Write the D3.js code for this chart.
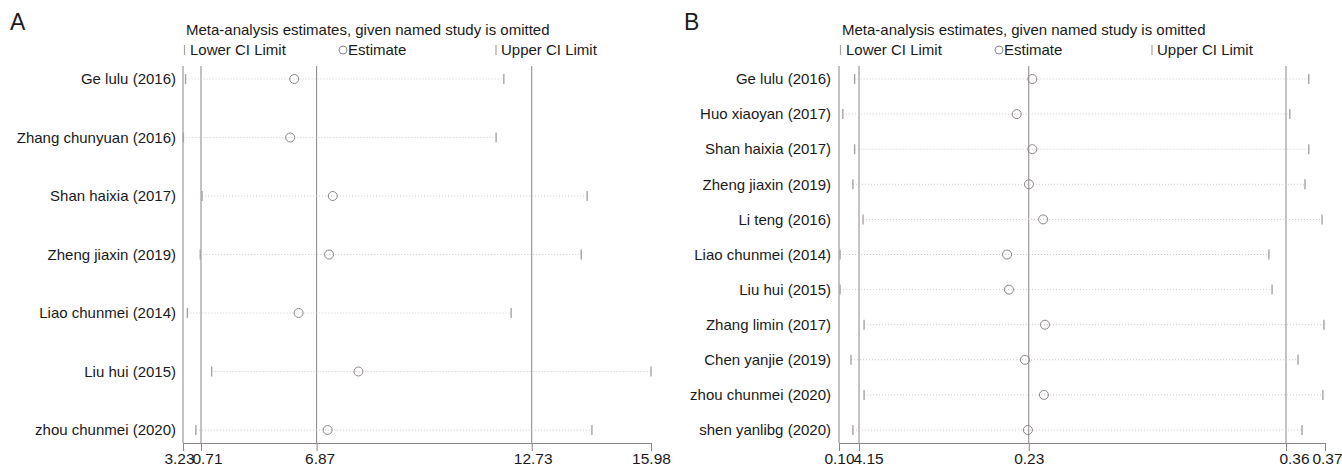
<!DOCTYPE html>
<html>
<head>
<meta charset="utf-8">
<script src="https://cdn.jsdelivr.net/npm/d3@7/dist/d3.min.js"></script>
<style>
  body { margin: 0; background: #fff; }
  text { font-family: "Liberation Sans Narrow", "Liberation Sans", Arial, sans-serif; fill: #1a1a1a; }
</style>
</head>
<body>
<div id="chart"></div>
<script>
// ---- Panel A data ----
const studiesA = ["Ge lulu (2016)", "Zhang chunyuan (2016)", "Shan haixia (2017)", "Zheng jiaxin (2019)",
  "Liao chunmei (2014)", "Liu hui (2015)", "zhou chunmei (2020)"];
const lowerA = [3.30, 3.24, 3.75, 3.70, 3.35, 4.01, 3.58];
const estA = [6.26, 6.15, 7.31, 7.21, 6.38, 8.01, 7.17];
const upperA = [11.97, 11.76, 14.24, 14.08, 12.17, 15.98, 14.37];
const refA = [3.72, 6.87, 12.73];
const domainA = [3.23, 15.98];
const tickValsA = [3.23, 3.72, 6.87, 12.73, 15.98];
const tickLabelsA = ["3.23", "0.71", "6.87", "12.73", "15.98"];

// ---- Panel B data ----
const studiesB = ["Ge lulu (2016)", "Huo xiaoyan (2017)", "Shan haixia (2017)", "Zheng jiaxin (2019)",
  "Li teng (2016)", "Liao chunmei (2014)", "Liu hui (2015)", "Zhang limin (2017)", "Chen yanjie (2019)",
  "zhou chunmei (2020)", "shen yanlibg (2020)"];
const lowerB = [0.1514, 0.1458, 0.1514, 0.1506, 0.1554, 0.1445, 0.1445, 0.1559, 0.1497, 0.1559, 0.1506];
const estB = [0.2357, 0.2283, 0.2357, 0.2341, 0.2408, 0.2237, 0.2246, 0.2417, 0.2322, 0.2412, 0.2336];
const upperB = [0.3668, 0.3578, 0.3668, 0.3650, 0.3731, 0.3479, 0.3494, 0.3740, 0.3617, 0.3735, 0.3636];
const refB = [0.1535, 0.234, 0.356];
const domainB = [0.144, 0.3745];
const tickValsB = [0.144, 0.1535, 0.234, 0.356, 0.3745];
const tickLabelsB = ["0.10", "4.15", "0.23", "0.36", "0.37"];

const title = "Meta-analysis estimates, given named study is omitted";

const W = 1342, H = 467;
const lineCol = "#8c8684";
const tickCol = "#a8a4a2";
const dotCol = "#c9c9c9";

const svg = d3.select("#chart").append("svg")
  .attr("width", W).attr("height", H);

function forestPanel(cfg) {
  const { letter, letterX, x0, x1, labelRight, studies, lower, est, upper, refs, domain, tickVals, tickLabels, labelDx } = cfg;
  const top = 66, axisY = 443;

  const x = d3.scaleLinear().domain(domain).range([x0, x1]);
  const y = d3.scalePoint().domain(studies).range([79, 430]);

  const g = svg.append("g");

  g.append("text")
    .attr("x", letterX).attr("y", 30)
    .style("font-family", "Liberation Sans, Arial, sans-serif")
    .style("font-size", "23px")
    .text(letter);

  // title + legend
  g.append("text").attr("x", x0 + 3).attr("y", 35)
    .style("font-size", "15px")
    .text(title);

  const leg = g.append("g").attr("transform", `translate(${x0},0)`);
  leg.append("line").attr("x1", 1.5).attr("x2", 1.5).attr("y1", 45).attr("y2", 55)
    .attr("stroke", tickCol).attr("stroke-width", 1.2);
  leg.append("text").attr("x", 7).attr("y", 55).style("font-size", "15px").text("Lower CI Limit");
  leg.append("circle").attr("cx", 160).attr("cy", 50).attr("r", 4)
    .attr("fill", "none").attr("stroke", lineCol);
  leg.append("text").attr("x", 165).attr("y", 55).style("font-size", "15px").text("Estimate");
  leg.append("line").attr("x1", 313).attr("x2", 313).attr("y1", 45).attr("y2", 55)
    .attr("stroke", tickCol).attr("stroke-width", 1.2);
  leg.append("text").attr("x", 318).attr("y", 55).style("font-size", "15px").text("Upper CI Limit");

  // vertical axis line and reference lines
  g.append("line").attr("x1", x(domain[0])).attr("x2", x(domain[0]))
    .attr("y1", top).attr("y2", axisY).attr("stroke", lineCol);
  g.selectAll(".ref").data(refs).enter().append("line")
    .attr("class", "ref")
    .attr("x1", d => x(d)).attr("x2", d => x(d))
    .attr("y1", top).attr("y2", axisY)
    .attr("stroke", lineCol);

  // x axis
  const axis = g.append("g")
    .attr("transform", `translate(0,${axisY})`)
    .call(d3.axisBottom(x).tickValues(tickVals).tickFormat((d, i) => tickLabels[i]).tickSize(8).tickSizeOuter(0));
  axis.select(".domain").attr("stroke", lineCol);
  axis.selectAll(".tick line").attr("stroke", lineCol);
  axis.selectAll(".tick text")
    .attr("y", 10)
    .attr("dy", "0.71em")
    .attr("dx", (d, i) => labelDx[i])
    .style("font-size", "15.5px")
    .style("font-family", "Liberation Sans Narrow, Liberation Sans, Arial, sans-serif")
    .attr("fill", "#1a1a1a");

  const rows = studies.map((s, i) => ({ s, lo: lower[i], est: est[i], hi: upper[i] }));

  // study labels
  g.selectAll(".lab").data(rows).enter().append("text")
    .attr("class", "lab")
    .attr("x", labelRight).attr("y", d => y(d.s))
    .attr("dy", "0.35em")
    .attr("text-anchor", "end")
    .style("font-size", "15px")
    .text(d => d.s);

  // dotted CI lines
  g.selectAll(".ci").data(rows).enter().append("line")
    .attr("class", "ci")
    .attr("x1", d => x(d.lo)).attr("x2", d => x(d.hi))
    .attr("y1", d => y(d.s)).attr("y2", d => y(d.s))
    .attr("stroke", dotCol).attr("stroke-width", 1)
    .attr("stroke-dasharray", "1,2");

  // CI end marks
  ["lo", "hi"].forEach(k => {
    g.selectAll(".m" + k).data(rows).enter().append("line")
      .attr("class", "m" + k)
      .attr("x1", d => x(d[k])).attr("x2", d => x(d[k]))
      .attr("y1", d => y(d.s) - 5).attr("y2", d => y(d.s) + 5)
      .attr("stroke", tickCol).attr("stroke-width", 1.4);
  });

  // estimates
  g.selectAll(".est").data(rows).enter().append("circle")
    .attr("class", "est")
    .attr("cx", d => x(d.est)).attr("cy", d => y(d.s))
    .attr("r", 4.5)
    .attr("fill", "none").attr("stroke", lineCol).attr("stroke-width", 1);
}

forestPanel({
  letter: "A", letterX: 10, x0: 183, x1: 651, labelRight: 176,
  studies: studiesA, lower: lowerA, est: estA, upper: upperA, refs: refA,
  domain: domainA, tickVals: tickValsA, tickLabels: tickLabelsA,
  labelDx: [-4, 6, 3, 1, 0]
});

forestPanel({
  letter: "B", letterX: 684, x0: 839, x1: 1325, labelRight: 831,
  studies: studiesB, lower: lowerB, est: estB, upper: upperB, refs: refB,
  domain: domainB, tickVals: tickValsB, tickLabels: tickLabelsB,
  labelDx: [0, 9, 0, 8, 2]
});
</script>
</body>
</html>
